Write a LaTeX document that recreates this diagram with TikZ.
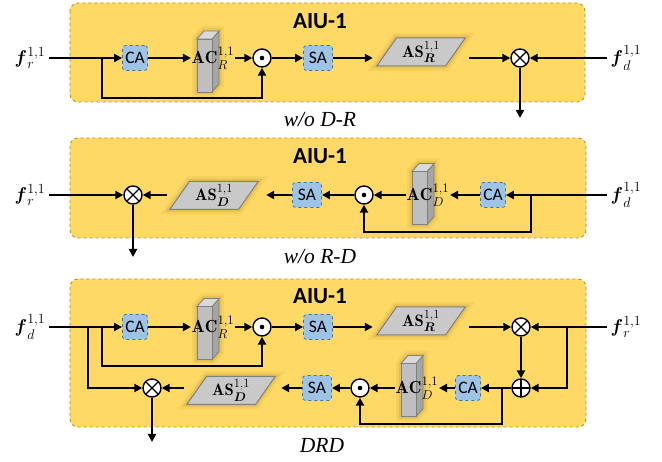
\RequirePackage{fix-cm}
\documentclass[tikz,border=0pt]{standalone}
\usepackage{amsmath,amssymb}
\usepackage{fontspec}
\newfontfamily\calib{Carlito}
\newfontfamily\timesf{Liberation Serif}
\usepackage{xcolor}
\usepackage{tikz}
\usetikzlibrary{arrows.meta,positioning,calc,shapes.geometric}
\DeclareMathSizes{18.5}{18.5}{14}{10}
\DeclareMathSizes{17.5}{17.5}{13}{10}
\DeclareMathSizes{16.5}{16.5}{12.5}{9}
\definecolor{gold}{HTML}{FFD966}
\definecolor{golddark}{HTML}{BF9000}
\definecolor{attblue}{HTML}{9DC3E6}
\definecolor{attedge}{HTML}{2E75B6}
\definecolor{greyfront}{HTML}{BFBFBF}
\definecolor{greyside}{HTML}{A5A5A5}
\definecolor{greytop}{HTML}{D9D9D9}
\definecolor{greyedge}{HTML}{7F7F7F}
\definecolor{glow}{HTML}{7F6000}
\tikzset{
    panelbox/.style={draw=golddark,fill=gold,dashed,line width=0.9pt,rounded corners=8pt},
    title/.style={font=\calib\bfseries\fontsize{23}{24}\selectfont,inner sep=0pt},
    caption/.style={font=\timesf\itshape\fontsize{21.5}{23}\selectfont,inner sep=0pt},
    flabel/.style={font=\fontsize{18.5}{20}\selectfont,inner sep=1pt,outer sep=3pt},
    aclabel/.style={font=\fontsize{17.5}{18}\selectfont,inner sep=0.5pt},
    attbox/.style={draw=attedge,fill=attblue,dashed,line width=0.8pt,rounded corners=3pt,
      minimum width=25pt,minimum height=25pt,inner sep=0pt,
      font=\calib\fontsize{17.5}{17.5}\selectfont},
    sabox/.style={minimum width=29pt},
    glowing/.style={preaction={draw=glow,opacity=0.07,line width=10pt},
      preaction={draw=glow,opacity=0.12,line width=5pt}},
    asnode/.style={trapezium,trapezium left angle=55,trapezium right angle=125,
      trapezium stretches=true,minimum width=89pt,minimum height=28pt,inner sep=0pt,
      draw=greyedge,fill=greyfront!85!white,line width=1pt,glowing,
      font=\fontsize{16.5}{18}\selectfont},
    opnode/.style={circle,draw=black,fill=white,line width=1.4pt,minimum size=18pt,inner sep=0pt},
    mulnode/.style={opnode,path picture={\draw[black,line width=1.2pt]
      (path picture bounding box.north west)--(path picture bounding box.south east)
      (path picture bounding box.north east)--(path picture bounding box.south west);}},
    dotnode/.style={opnode,path picture={\fill[black] (path picture bounding box.center) circle (2.3pt);}},
    addnode/.style={opnode,path picture={\draw[black,line width=1.2pt]
      (path picture bounding box.north)--(path picture bounding box.south)
      (path picture bounding box.west)--(path picture bounding box.east);}},
    wire/.style={line width=2.4pt},
    flowarrow/.style={wire,-{Triangle[length=8pt,width=8pt]}},
    acblock/.pic={
      \draw[glow,opacity=0.07,line width=10pt]
        (-7.5,26.5)--(-7.5,-26.5)--(-0.5,-34.5)--(14.5,-34.5)--(14.5,18.5)--(7.5,26.5)--cycle;
      \draw[glow,opacity=0.12,line width=5pt]
        (-7.5,26.5)--(-7.5,-26.5)--(-0.5,-34.5)--(14.5,-34.5)--(14.5,18.5)--(7.5,26.5)--cycle;
      \draw[greyedge,fill=greyside,line width=0.8pt]
        (7.5,-26.5)--(14.5,-34.5)--(14.5,18.5)--(7.5,26.5)--cycle;
      \draw[greyedge,fill=greytop,line width=0.8pt]
        (-7.5,-26.5)--(-0.5,-34.5)--(14.5,-34.5)--(7.5,-26.5)--cycle;
      \draw[greyedge,fill=greyfront,line width=0.8pt] (-7.5,-26.5) rectangle (7.5,26.5);
    }
}

\begin{document}
\begin{tikzpicture}[x=1pt,y=-1pt]
  \useasboundingbox (0,0) rectangle (662,462);
  % w/o D-R
  \draw[panelbox] (70,3) rectangle (585,102);
  \node[title] (t1) at (320,21) {AIU-1};
  \node[flabel] (fr1) at (30,58) {$\boldsymbol{f}_r^{1,1}$};
  \node[attbox] (ca1) at (135,58) {CA};
  \pic at (204.5,65.5) {acblock};
  \node[aclabel] (ac1) at (213,58) {$\mathbf{AC}_R^{1,1}$};
  \node[dotnode] (dot1) at (262,58) {};
  \node[attbox,sabox] (sa1) at (318,58) {SA};
  \node[asnode] (as1) at (421,52) {$\mathbf{AS}_{\boldsymbol{R}}^{1,1}$};
  \node[mulnode] (mul1) at (520,58) {};
  \node[flabel] (fd1) at (626,58) {$\boldsymbol{f}_d^{1,1}$};
  \coordinate (b1) at (102,58);
  \coordinate (out1) at (520,118);
  \node[caption] (c1) at (320,120) {w/o D-R};
  \draw[flowarrow] (fr1) -- (ca1);
  \draw[flowarrow] (ca1) -- (ac1);
  \draw[flowarrow] (ac1) -- (dot1);
  \draw[flowarrow] (b1) -- ++(0,40) -| (dot1.south);
  \draw[flowarrow] (dot1) -- (sa1);
  \draw[flowarrow] (sa1) -- ($(as1.bottom left corner |- sa1)+(-3,0)$);
  \draw[flowarrow] ($(as1.top right corner |- mul1)+(3,0)$) -- (mul1);
  \draw[flowarrow] (fd1) -- (mul1);
  \draw[flowarrow] (mul1) -- (out1);

  % w/o R-D
  \draw[panelbox] (70,138) rectangle (586,238);
  \node[title] (t2) at (320,156) {AIU-1};
  \node[flabel] (fr2) at (30,195) {$\boldsymbol{f}_r^{1,1}$};
  \node[mulnode] (mul2) at (133,195) {};
  \node[asnode] (as2) at (214,195.5) {$\mathbf{AS}_{\boldsymbol{D}}^{1,1}$};
  \node[attbox,sabox] (sa2) at (307,195) {SA};
  \node[dotnode] (dot2) at (364,195) {};
  \pic at (419.5,198) {acblock};
  \node[aclabel] (ac2) at (428,195) {$\mathbf{AC}_D^{1,1}$};
  \node[attbox] (ca2) at (493,195) {CA};
  \node[flabel] (fd2) at (626,195) {$\boldsymbol{f}_d^{1,1}$};
  \coordinate (b2) at (531,195);
  \coordinate (out2) at (133,257);
  \node[caption] (c2) at (320,257) {w/o R-D};
  \draw[flowarrow] (fr2) -- (mul2);
  \draw[flowarrow] ($(as2.bottom left corner |- mul2)+(-2,0)$) -- (mul2);
  \draw[flowarrow] (sa2) -- ($(as2.top right corner |- sa2)+(7,0)$);
  \draw[flowarrow] (dot2) -- (sa2);
  \draw[flowarrow] (ac2) -- (dot2);
  \draw[flowarrow] (ca2) -- (ac2);
  \draw[flowarrow] (fd2) -- (ca2);
  \draw[flowarrow] (b2) -- ++(0,37) -| (dot2.south);
  \draw[flowarrow] (mul2) -- (out2);

  % DRD
  \draw[panelbox] (70,279) rectangle (586,427);
  \node[title] (t3) at (320,296) {AIU-1};
  \node[flabel] (fd3) at (30,327) {$\boldsymbol{f}_d^{1,1}$};
  \node[attbox] (ca3) at (135,327) {CA};
  \pic at (204.5,333) {acblock};
  \node[aclabel] (ac3) at (213,327) {$\mathbf{AC}_R^{1,1}$};
  \node[dotnode] (dot3) at (262,327) {};
  \node[attbox,sabox] (sa3) at (318,327) {SA};
  \node[asnode] (as3) at (421,321) {$\mathbf{AS}_{\boldsymbol{R}}^{1,1}$};
  \node[mulnode] (mul3) at (521,327) {};
  \node[flabel] (fr3) at (626,327) {$\boldsymbol{f}_r^{1,1}$};
  \node[addnode] (add3) at (521,388) {};
  \node[attbox] (ca4) at (468,388) {CA};
  \pic at (408.5,390) {acblock};
  \node[aclabel] (ac4) at (417,388) {$\mathbf{AC}_D^{1,1}$};
  \node[dotnode] (dot4) at (360,388) {};
  \node[attbox,sabox] (sa4) at (317,388) {SA};
  \node[asnode] (as4) at (231,390.5) {$\mathbf{AS}_{\boldsymbol{D}}^{1,1}$};
  \node[mulnode] (mul4) at (152,388) {};
  \coordinate (b3) at (88,327);
  \coordinate (b4) at (102,327);
  \coordinate (b5) at (567,327);
  \coordinate (b6) at (502,388);
  \coordinate (out3) at (152,442);
  \node[caption] (c3) at (322,445) {DRD};
  \draw[flowarrow] (fd3) -- (ca3);
  \draw[flowarrow] (ca3) -- (ac3);
  \draw[flowarrow] (ac3) -- (dot3);
  \draw[flowarrow] (b4) -- ++(0,39) -| (dot3.south);
  \draw[flowarrow] (b3) |- (mul4);
  \draw[flowarrow] (dot3) -- (sa3);
  \draw[flowarrow] (sa3) -- ($(as3.bottom left corner |- sa3)+(-3,0)$);
  \draw[flowarrow] ($(as3.top right corner |- mul3)+(3,0)$) -- (mul3);
  \draw[flowarrow] (fr3) -- (mul3);
  \draw[flowarrow] (b5) |- (add3);
  \draw[flowarrow] (mul3) -- (add3);
  \draw[flowarrow] (add3) -- (ca4);
  \draw[flowarrow] (b6) -- ++(0,36) -| (dot4.south);
  \draw[flowarrow] (ca4) -- (ac4);
  \draw[flowarrow] (ac4) -- (dot4);
  \draw[flowarrow] (dot4) -- (sa4);
  \draw[flowarrow] (sa4) -- ($(as4.top right corner |- sa4)+(5,0)$);
  \draw[flowarrow] ($(as4.bottom left corner |- mul4)+(-2,0)$) -- (mul4);
  \draw[flowarrow] (mul4) -- (out3);
\end{tikzpicture}
\end{document}
